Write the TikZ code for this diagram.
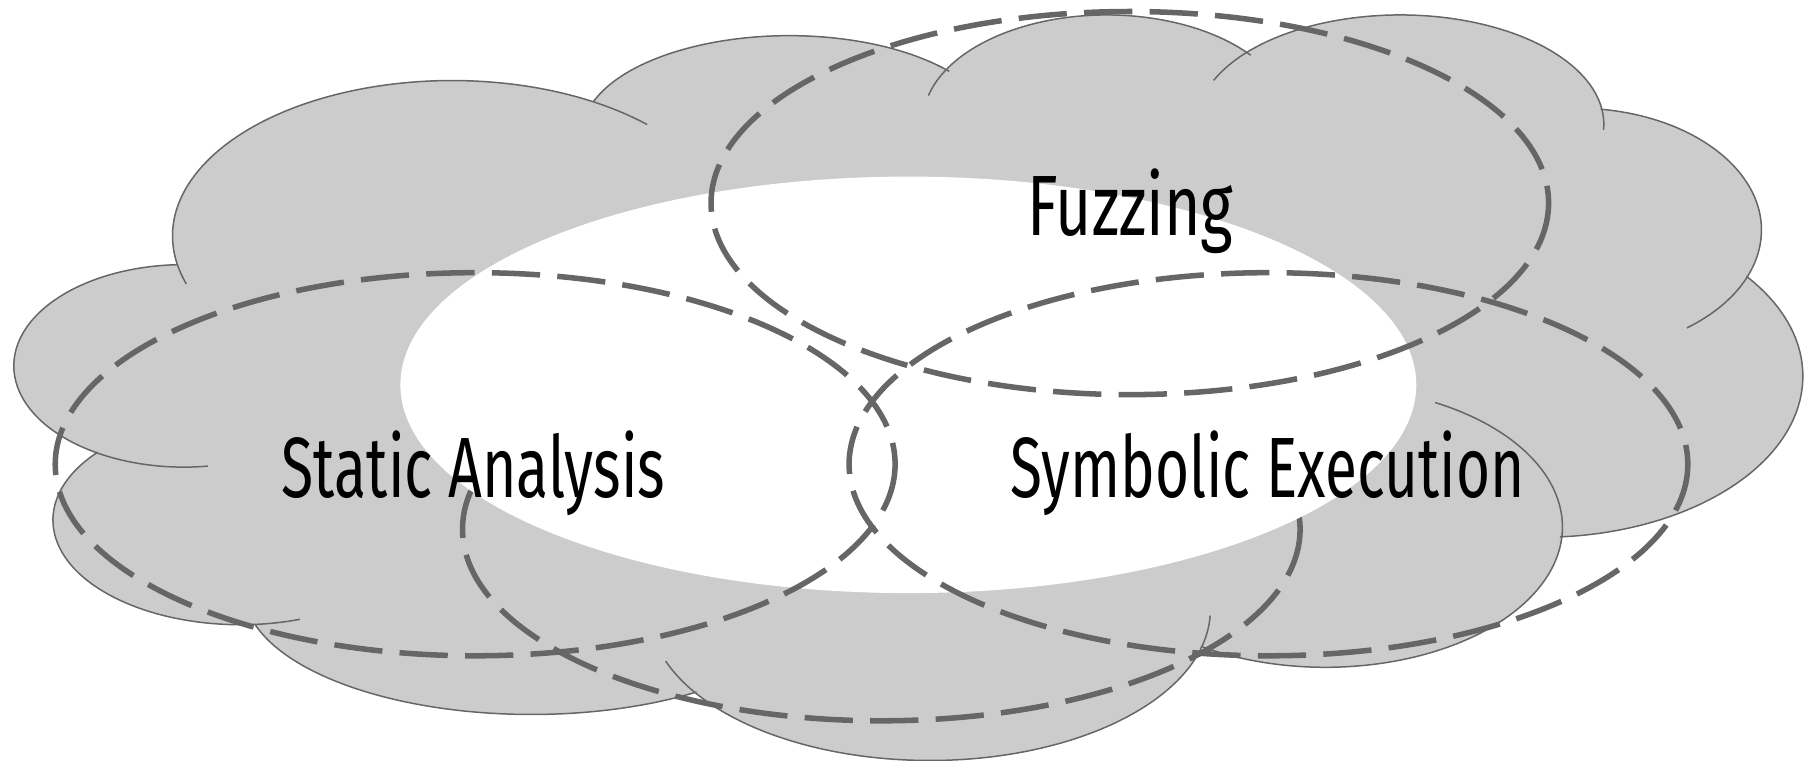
\documentclass[tikz,border=0pt]{standalone}
\usepackage{fontspec}
\setmainfont{Fira Sans}
\usepackage{graphicx}
\definecolor{cloudfill}{HTML}{CCCCCC}
\definecolor{ink}{HTML}{666666}
\tikzset{
  cloudline/.style={draw=ink, line width=1.3pt},
  dashring/.style={draw=ink, line width=4.8pt, dash pattern=on 42pt off 15pt},
  termtext/.style={anchor=base, inner sep=0pt, text=black}
}
% one bump of the cloud: centre (x,y), radii rx, ry, parametric angles from/to
\newcommand{\cloudarc}[6]{%
  \draw[cloudline] (#1,#2) ++(#5:#3pt and #4pt)
    arc[start angle=#5, end angle=#6, x radius=#3pt, y radius=#4pt];}
\begin{document}
\begin{tikzpicture}[x=1pt,y=1pt]
\begin{scope}[yscale=-1]
  \useasboundingbox (0,0) rectangle (1568,661);

  % cloud body
  \begin{scope}[fill=cloudfill]
    \fill (160,318) ellipse[x radius=148pt, y radius=88pt];
    \fill (209,452) ellipse[x radius=163pt, y radius=91pt];
    \fill (393,205) ellipse[x radius=243pt, y radius=135pt];
    \fill (686,116) ellipse[x radius=180pt, y radius=85pt];
    \fill (962,106) ellipse[x radius=160pt, y radius=93pt];
    \fill (1217,108) ellipse[x radius=177pt, y radius=95pt];
    \fill (1370,200) ellipse[x radius=161pt, y radius=106pt];
    \fill (1340,327) ellipse[x radius=227pt, y radius=140pt];
    \fill (1152,458) ellipse[x radius=206pt, y radius=122pt];
    \fill (808,530) ellipse[x radius=244pt, y radius=131pt];
    \fill (462,513) ellipse[x radius=250pt, y radius=108pt];
    \fill (160,318) -- (393,205) -- (686,116) -- (962,106) -- (1217,108)
      -- (1370,200) -- (1340,327) -- (1152,458) -- (808,530) -- (462,513)
      -- (209,452) -- cycle;
  \end{scope}

  % cloud outline, bump by bump
  \cloudarc{160}{318}{148}{88}{82}{268}
  \cloudarc{209}{452}{163}{91}{220.4}{71.5}
  \cloudarc{393}{205}{243}{135}{162}{314.2}
  \cloudarc{686}{116}{180}{85}{199.2}{320.6}
  \cloudarc{962}{106}{160}{93}{194.3}{321.4}
  \cloudarc{1217}{108}{177}{95}{203.7}{362.9}
  \cloudarc{1370}{200}{161}{106}{277.6}{413.3}
  \cloudarc{1340}{327}{227}{140}{321.6}{446}
  \cloudarc{1152}{458}{206}{122}{297.6}{481.7}
  \cloudarc{808}{530}{244}{131}{2.2}{160.1}
  \cloudarc{462}{513}{250}{108}{55}{163.8}

  % lower ring, partly hidden by the white core
  \draw[dashring] (766,460) ellipse[x radius=364pt, y radius=166.5pt];

  % white core
  \fill[white] (789.5,334.5) ellipse[x radius=441.5pt, y radius=181pt];

  % the three technique rings
  \draw[dashring] (982,176.5) ellipse[x radius=364pt, y radius=166.5pt];
  \draw[dashring] (413,403.5) ellipse[x radius=365pt, y radius=166.5pt];
  \draw[dashring] (1102.5,403.5) ellipse[x radius=364.5pt, y radius=166.5pt];

  % labels
  \node[termtext] (fuzz) at (982.5,205)
    {\resizebox{179pt}{58pt}{Fuzzing}};
  \node[termtext] (static) at (411.5,432)
    {\resizebox{333pt}{58pt}{Static Analysis}};
  \node[termtext] (symb) at (1101.5,432)
    {\resizebox{447pt}{58pt}{Symbolic Execution}};
\end{scope}
\end{tikzpicture}
\end{document}
